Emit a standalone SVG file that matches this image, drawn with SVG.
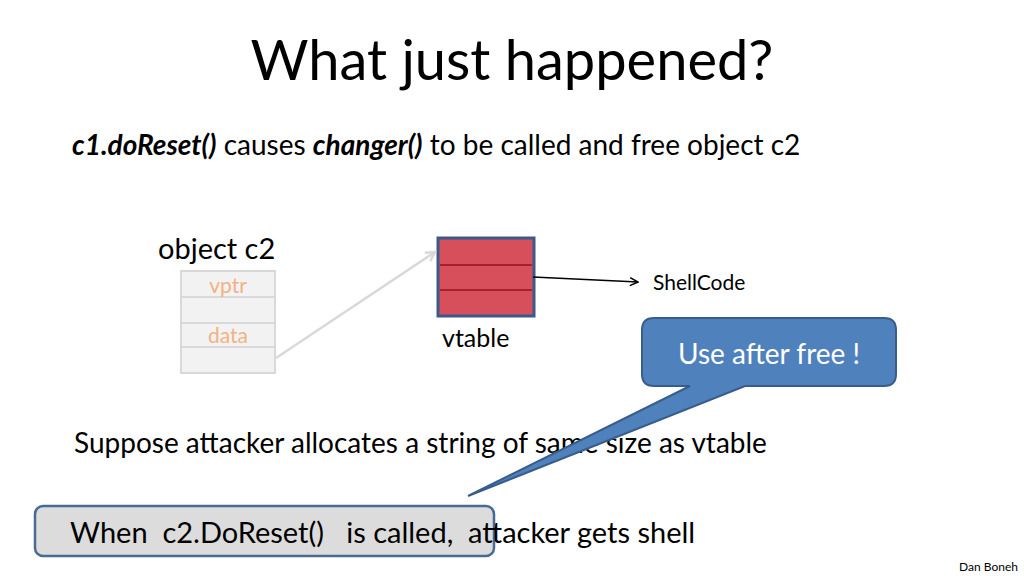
<svg xmlns="http://www.w3.org/2000/svg" width="1024" height="576" viewBox="0 0 1024 576">
<style>
text{font-family:Lato,"Open Sans",sans-serif;fill:#000}
.cell{fill:#f2f2f2;stroke:#d9d9d9;stroke-width:2}
.lbl{fill:#f4b183;font-size:21px}
.vt{fill:#d64f5a;stroke:#b22a35;stroke-width:2}
</style>
<defs>
<marker id="ah" markerWidth="10" markerHeight="10" refX="9" refY="5" orient="auto" markerUnits="userSpaceOnUse"><path d="M1,1 L9,5 L1,9" fill="none" stroke="#000" stroke-width="1.5"/></marker>
<marker id="ahg" markerWidth="12" markerHeight="12" refX="10" refY="6" orient="auto" markerUnits="userSpaceOnUse"><path d="M1,1 L10,6 L1,11" fill="none" stroke="#d9d9d9" stroke-width="2.5"/></marker>
</defs>
<rect width="1024" height="576" fill="#fff"/>
<text x="512" y="80" font-size="56" text-anchor="middle">What just happened?</text>
<text x="72" y="155" font-size="28"><tspan font-weight="bold" font-style="italic">c1.doReset()</tspan>  causes <tspan font-weight="bold" font-style="italic">changer()</tspan>  to be called and free object c2</text>
<g id="objc2">
<text x="158" y="259" font-size="29">object  c2</text>
<rect class="cell" x="181" y="271" width="94" height="26"/>
<rect class="cell" x="181" y="297" width="94" height="26"/>
<rect class="cell" x="181" y="323" width="94" height="24"/>
<rect class="cell" x="181" y="347" width="94" height="26"/>
<text class="lbl" x="228" y="293" text-anchor="middle">vptr</text>
<text class="lbl" x="228" y="343" text-anchor="middle">data</text>
</g>
<g id="vtable">
<rect x="438" y="238" width="96" height="78" fill="#d64f5a" stroke="#3b5a8c" stroke-width="3"/>
<line x1="440" y1="265" x2="532" y2="265" stroke="#a8202c" stroke-width="2"/>
<line x1="440" y1="290" x2="532" y2="290" stroke="#a8202c" stroke-width="2"/>
<text x="442" y="347" font-size="25">vtable</text>
</g>
<g id="shellcode"><text x="653" y="290" font-size="21">ShellCode</text></g>
<g id="connectors">
<line x1="276" y1="358" x2="435" y2="252" stroke="#d9d9d9" stroke-width="2.5" marker-end="url(#ahg)"/>
<line x1="533" y1="277" x2="638" y2="282" stroke="#000" stroke-width="1.5" marker-end="url(#ah)"/>
</g>
<text x="74" y="453" font-size="28">Suppose attacker allocates a string of same size as vtable</text>
<g id="callout">
<path d="M654,318 H884 Q896,318 896,330 V374 Q896,386 884,386 H745 L468,496 L690,386 H654 Q642,386 642,374 V330 Q642,318 654,318 Z" fill="#4f81bd" stroke="#385d8a" stroke-width="2"/>
<text x="769" y="364" font-size="28" text-anchor="middle" style="fill:#fff">Use after free !</text>
</g>
<g id="when">
<rect x="35" y="506" width="459" height="50" rx="8" fill="#dcdcdc" stroke="#4a6a96" stroke-width="2.5"/>
<text x="70" y="543" font-size="29" xml:space="preserve">When  c2.DoReset()   is called,  attacker gets shell</text>
</g>
<text x="1018" y="571" font-size="12" text-anchor="end">Dan Boneh</text>
</svg>
